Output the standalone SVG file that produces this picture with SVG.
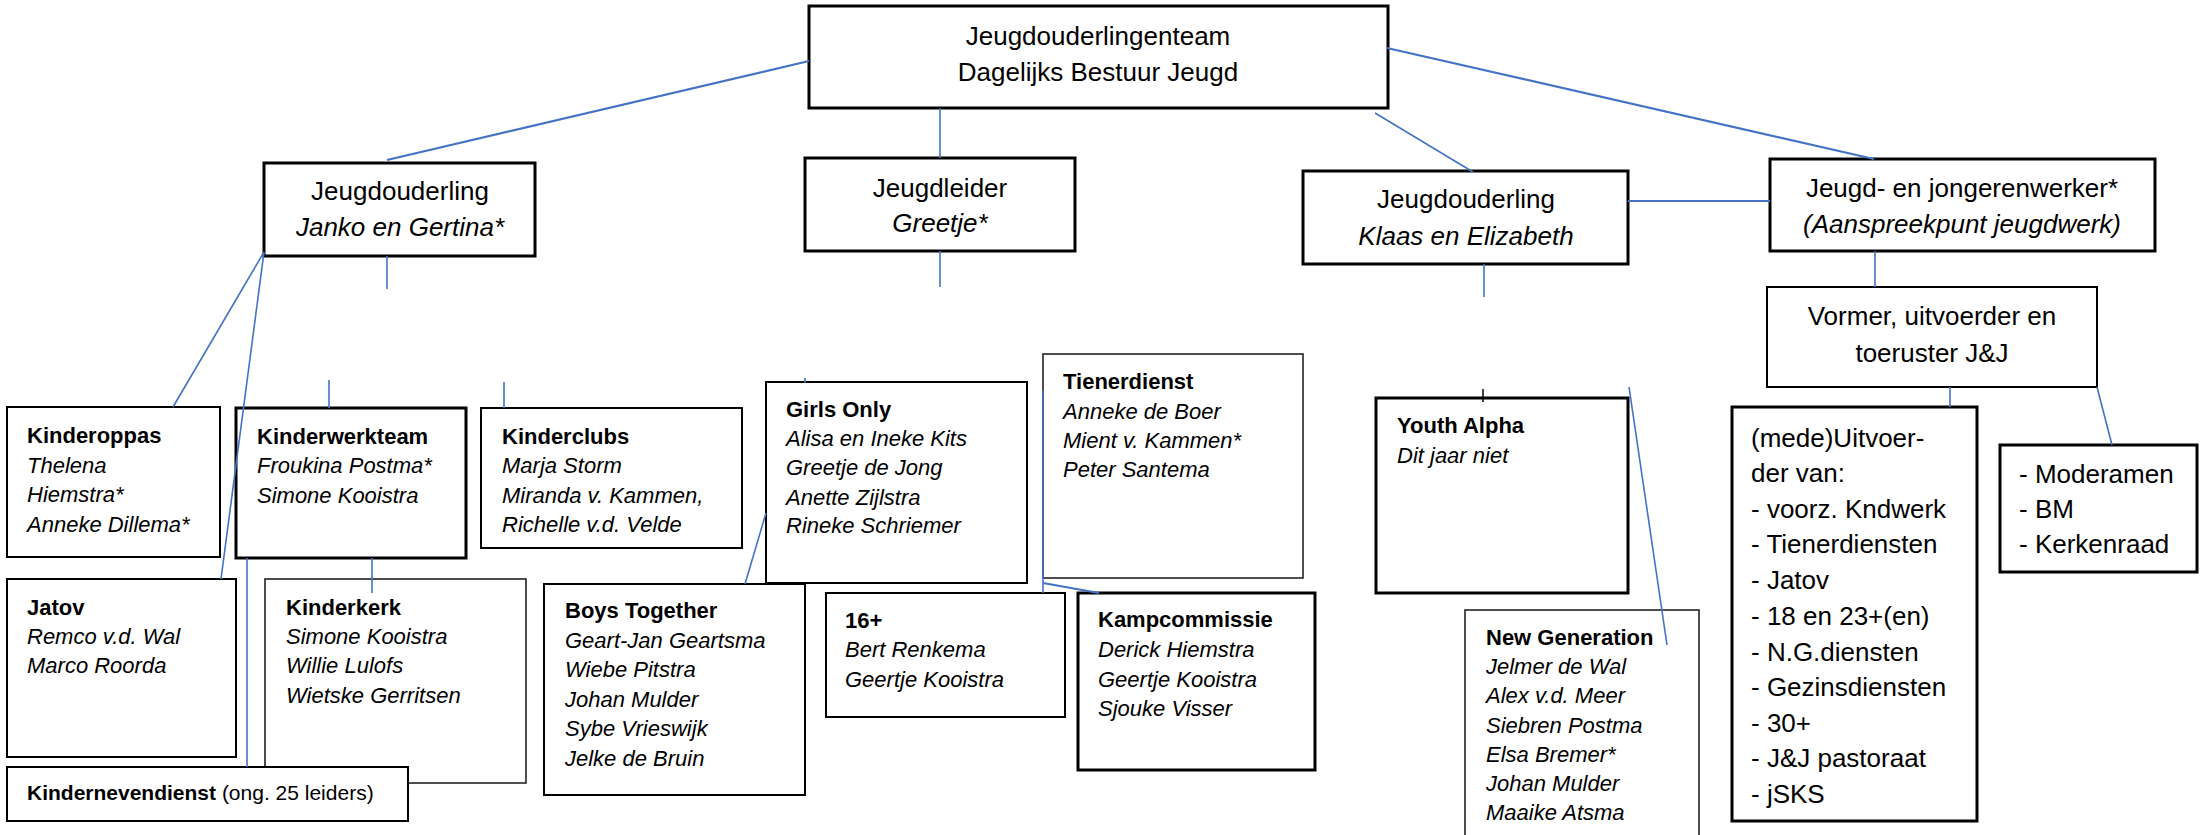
<svg xmlns="http://www.w3.org/2000/svg" width="2204" height="835" viewBox="0 0 2204 835">
<style>
text{font-family:"Liberation Sans",Arial,sans-serif;fill:#000}
.box{fill:#fff;stroke:#000;stroke-width:2}
.thick{stroke-width:3}
.thin{stroke-width:1.6;stroke:#222}
.big{font-size:26px}
.mid{text-anchor:middle}
.sm{font-size:22px}
.b{font-weight:bold}
.i{font-style:italic}
.c{stroke:#4472C4;stroke-width:1.6;fill:none}
.c2{stroke:#4472C4;stroke-width:2.2;fill:none}
</style>
<rect width="2204" height="835" fill="#fff"/>
<g id="top">
<rect class="box thick" x="809" y="6" width="579" height="102"/>
<text class="big mid" x="1098" y="45">Jeugdouderlingenteam</text>
<text class="big mid" x="1098" y="81">Dagelijks Bestuur Jeugd</text>
</g>
<g id="janko">
<rect class="box thick" x="264" y="163" width="271" height="93"/>
<text class="big mid" x="400" y="200">Jeugdouderling</text>
<text class="big mid i" x="400" y="236">Janko en Gertina*</text>
</g>
<g id="greetje">
<rect class="box thick" x="805" y="158" width="270" height="93"/>
<text class="big mid" x="940" y="197">Jeugdleider</text>
<text class="big mid i" x="940" y="232">Greetje*</text>
</g>
<g id="klaas">
<rect class="box thick" x="1303" y="171" width="325" height="93"/>
<text class="big mid" x="1466" y="208">Jeugdouderling</text>
<text class="big mid i" x="1466" y="245">Klaas en Elizabeth</text>
</g>
<g id="jongerenwerker">
<rect class="box thick" x="1770" y="159" width="385" height="92"/>
<text class="big mid" x="1962" y="197">Jeugd- en jongerenwerker*</text>
<text class="big mid i" x="1962" y="233">(Aanspreekpunt jeugdwerk)</text>
</g>
<g id="vormer">
<rect class="box" x="1767" y="287" width="330" height="100"/>
<text class="big mid" x="1932" y="325">Vormer, uitvoerder en</text>
<text class="big mid" x="1932" y="362">toeruster J&amp;J</text>
</g>
<g id="uitvoerder">
<rect class="box thick" x="1732" y="407" width="245" height="414"/>
<text class="big" x="1751" y="447">(mede)Uitvoer-</text>
<text class="big" x="1751" y="482">der van:</text>
<text class="big" x="1751" y="518">- voorz. Kndwerk</text>
<text class="big" x="1751" y="553">- Tienerdiensten</text>
<text class="big" x="1751" y="589">- Jatov</text>
<text class="big" x="1751" y="625">- 18 en 23+(en)</text>
<text class="big" x="1751" y="661">- N.G.diensten</text>
<text class="big" x="1751" y="696">- Gezinsdiensten</text>
<text class="big" x="1751" y="732">- 30+</text>
<text class="big" x="1751" y="767">- J&amp;J pastoraat</text>
<text class="big" x="1751" y="803">- jSKS</text>
</g>
<g id="moderamen">
<rect class="box thick" x="2000" y="445" width="197" height="127"/>
<text class="big" x="2019" y="483">- Moderamen</text>
<text class="big" x="2019" y="518">- BM</text>
<text class="big" x="2019" y="553">- Kerkenraad</text>
</g>
<g id="kinderoppas">
<rect class="box" x="7" y="407" width="213" height="150"/>
<text class="sm b" x="27" y="443">Kinderoppas</text>
<text class="sm i" x="27" y="473">Thelena</text>
<text class="sm i" x="27" y="502">Hiemstra*</text>
<text class="sm i" x="27" y="532">Anneke Dillema*</text>
</g>
<g id="kinderwerkteam">
<rect class="box thick" x="236" y="408" width="230" height="150"/>
<text class="sm b" x="257" y="444">Kinderwerkteam</text>
<text class="sm i" x="257" y="473">Froukina Postma*</text>
<text class="sm i" x="257" y="503">Simone Kooistra</text>
</g>
<g id="kinderclubs">
<rect class="box" x="481" y="408" width="261" height="140"/>
<text class="sm b" x="502" y="444">Kinderclubs</text>
<text class="sm i" x="502" y="473">Marja Storm</text>
<text class="sm i" x="502" y="503">Miranda v. Kammen,</text>
<text class="sm i" x="502" y="532">Richelle v.d. Velde</text>
</g>
<g id="girlsonly">
<rect class="box" x="766" y="382" width="261" height="201"/>
<text class="sm b" x="786" y="417">Girls Only</text>
<text class="sm i" x="786" y="446">Alisa en Ineke Kits</text>
<text class="sm i" x="786" y="475">Greetje de Jong</text>
<text class="sm i" x="786" y="505">Anette Zijlstra</text>
<text class="sm i" x="786" y="533">Rineke Schriemer</text>
</g>
<g id="tienerdienst">
<rect class="box thin" x="1043" y="354" width="260" height="224"/>
<text class="sm b" x="1063" y="389">Tienerdienst</text>
<text class="sm i" x="1063" y="419">Anneke de Boer</text>
<text class="sm i" x="1063" y="448">Mient v. Kammen*</text>
<text class="sm i" x="1063" y="477">Peter Santema</text>
</g>
<g id="youthalpha">
<rect class="box thick" x="1376" y="398" width="252" height="195"/>
<text class="sm b" x="1397" y="433">Youth Alpha</text>
<text class="sm i" x="1397" y="463">Dit jaar niet</text>
</g>
<g id="jatov">
<rect class="box" x="7" y="579" width="229" height="178"/>
<text class="sm b" x="27" y="615">Jatov</text>
<text class="sm i" x="27" y="644">Remco v.d. Wal</text>
<text class="sm i" x="27" y="673">Marco Roorda</text>
</g>
<g id="kinderkerk">
<rect class="box thin" x="265" y="579" width="261" height="204"/>
<text class="sm b" x="286" y="615">Kinderkerk</text>
<text class="sm i" x="286" y="644">Simone Kooistra</text>
<text class="sm i" x="286" y="673">Willie Lulofs</text>
<text class="sm i" x="286" y="703">Wietske Gerritsen</text>
</g>
<g id="kindernevendienst">
<rect class="box" x="7" y="767" width="401" height="54"/>
<text x="27" y="800" style="font-size:21px"><tspan font-weight="bold">Kindernevendienst</tspan> (ong. 25 leiders)</text>
</g>
<g id="boystogether">
<rect class="box" x="544" y="584" width="261" height="211"/>
<text class="sm b" x="565" y="618">Boys Together</text>
<text class="sm i" x="565" y="648">Geart-Jan Geartsma</text>
<text class="sm i" x="565" y="677">Wiebe Pitstra</text>
<text class="sm i" x="565" y="707">Johan Mulder</text>
<text class="sm i" x="565" y="736">Sybe Vrieswijk</text>
<text class="sm i" x="565" y="766">Jelke de Bruin</text>
</g>
<g id="zestienplus">
<rect class="box" x="826" y="593" width="239" height="124"/>
<text class="sm b" x="845" y="628">16+</text>
<text class="sm i" x="845" y="657">Bert Renkema</text>
<text class="sm i" x="845" y="687">Geertje Kooistra</text>
</g>
<g id="kampcommissie">
<rect class="box thick" x="1078" y="593" width="237" height="177"/>
<text class="sm b" x="1098" y="627">Kampcommissie</text>
<text class="sm i" x="1098" y="657">Derick Hiemstra</text>
<text class="sm i" x="1098" y="687">Geertje Kooistra</text>
<text class="sm i" x="1098" y="716">Sjouke Visser</text>
</g>
<g id="newgeneration">
<rect class="box thin" x="1465" y="610" width="234" height="240"/>
<text class="sm b" x="1486" y="645">New Generation</text>
<text class="sm i" x="1486" y="674">Jelmer de Wal</text>
<text class="sm i" x="1486" y="703">Alex v.d. Meer</text>
<text class="sm i" x="1486" y="733">Siebren Postma</text>
<text class="sm i" x="1486" y="762">Elsa Bremer*</text>
<text class="sm i" x="1486" y="791">Johan Mulder</text>
<text class="sm i" x="1486" y="820">Maaike Atsma</text>
</g>
<g id="connectors">
<line class="c2" x1="809" y1="61" x2="387" y2="160"/>
<line class="c" x1="940" y1="108" x2="940" y2="158"/>
<line class="c" x1="1375" y1="113" x2="1473" y2="172"/>
<line class="c2" x1="1387" y1="48" x2="1874" y2="159"/>
<line class="c2" x1="1628" y1="201" x2="1770" y2="201"/>
<line class="c" x1="387" y1="256" x2="387" y2="289"/>
<line class="c" x1="940" y1="251" x2="940" y2="287"/>
<line class="c" x1="1484" y1="264" x2="1484" y2="297"/>
<line class="c" x1="1875" y1="251" x2="1875" y2="287"/>
<line class="c" x1="1950" y1="387" x2="1950" y2="407"/>
<line class="c" x1="2097" y1="387" x2="2112" y2="445"/>
<line class="c" x1="264" y1="252" x2="173" y2="407"/>
<line class="c" x1="264" y1="252" x2="221" y2="579"/>
<line class="c" x1="329" y1="380" x2="329" y2="408"/>
<line class="c" x1="504" y1="382" x2="504" y2="408"/>
<line class="c" x1="805" y1="378" x2="805" y2="383"/>
<line class="c" x1="247" y1="558" x2="247" y2="767"/>
<line class="c" x1="372" y1="558" x2="372" y2="593"/>
<line class="c" x1="766" y1="513" x2="745" y2="584"/>
<line class="c" x1="1043" y1="390" x2="1043" y2="593"/>
<line class="c2" x1="1043" y1="583" x2="1099" y2="593"/>
<line x1="1483" y1="389" x2="1483" y2="402" stroke="#000" stroke-width="1.5"/>
<line class="c" x1="1629" y1="387" x2="1667" y2="645"/>
</g>
</svg>
